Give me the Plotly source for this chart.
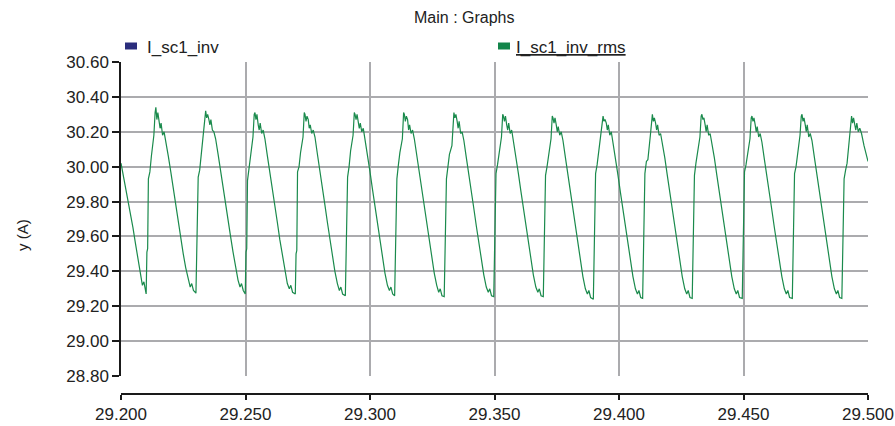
import plotly.graph_objects as go

# Simulation time (ms after 29.200 s) and RMS inverter current I_sc1_inv_rms (A), one line per cycle
t_ms = [
    0.0, 0.8, 1.8, 2.8, 3.8, 4.8, 5.8, 6.8, 7.8, 8.6, 9.2, 9.7, 10.1,
    10.4, 10.7, 11.0, 11.6, 12.2, 13.2, 13.7, 14.0, 14.4, 14.8, 15.3, 15.7, 16.1, 16.7, 17.3, 18.0, 19.0, 20.0, 21.0, 22.0, 23.0, 24.0, 25.0, 26.0, 27.0, 27.8, 28.4, 29.1, 30.1,
    30.4, 30.7, 31.0, 31.6, 32.2, 33.2, 33.7, 34.0, 34.4, 34.8, 35.3, 35.7, 36.1, 36.7, 37.3, 38.0, 39.0, 40.0, 41.0, 42.0, 43.0, 44.0, 45.0, 46.0, 47.0, 47.8, 48.4, 49.1, 49.9,
    50.2, 50.5, 50.8, 51.4, 52.0, 53.0, 53.5, 53.8, 54.2, 54.6, 55.1, 55.5, 55.9, 56.5, 57.1, 57.8, 58.8, 59.8, 60.8, 61.8, 62.8, 63.8, 64.8, 65.8, 66.8, 67.6, 68.2, 68.9, 70.0,
    70.3, 70.6, 70.9, 71.5, 72.1, 73.1, 73.6, 73.9, 74.3, 74.7, 75.2, 75.6, 76.0, 76.6, 77.2, 77.9, 78.9, 79.9, 80.9, 81.9, 82.9, 83.9, 84.9, 85.9, 86.9, 87.7, 88.3, 89.0, 90.1,
    90.4, 90.7, 91.0, 91.6, 92.2, 93.2, 93.7, 94.0, 94.4, 94.8, 95.3, 95.7, 96.1, 96.7, 97.3, 98.0, 99.0, 100.0, 101.0, 102.0, 103.0, 104.0, 105.0, 106.0, 107.0, 107.8, 108.4, 109.1, 109.9,
    110.2, 110.5, 110.8, 111.4, 112.0, 113.0, 113.5, 113.8, 114.2, 114.6, 115.1, 115.5, 115.9, 116.5, 117.1, 117.8, 118.8, 119.8, 120.8, 121.8, 122.8, 123.8, 124.8, 125.8, 126.8, 127.6, 128.2, 128.9, 129.8,
    130.1, 130.4, 130.7, 131.3, 131.9, 132.9, 133.4, 133.7, 134.1, 134.5, 135.0, 135.4, 135.8, 136.4, 137.0, 137.7, 138.7, 139.7, 140.7, 141.7, 142.7, 143.7, 144.7, 145.7, 146.7, 147.5, 148.1, 148.8, 149.7,
    150.0, 150.3, 150.6, 151.2, 151.8, 152.8, 153.3, 153.6, 154.0, 154.4, 154.9, 155.3, 155.7, 156.3, 156.9, 157.6, 158.6, 159.6, 160.6, 161.6, 162.6, 163.6, 164.6, 165.6, 166.6, 167.4, 168.0, 168.7, 169.6,
    169.9, 170.2, 170.5, 171.1, 171.7, 172.7, 173.2, 173.5, 173.9, 174.3, 174.8, 175.2, 175.6, 176.2, 176.8, 177.5, 178.5, 179.5, 180.5, 181.5, 182.5, 183.5, 184.5, 185.5, 186.5, 187.3, 187.9, 188.6, 189.7,
    190.0, 190.3, 190.6, 191.2, 191.8, 192.8, 193.3, 193.6, 194.0, 194.4, 194.9, 195.3, 195.7, 196.3, 196.9, 197.6, 198.6, 199.6, 200.6, 201.6, 202.6, 203.6, 204.6, 205.6, 206.6, 207.4, 208.0, 208.7, 209.5,
    209.8, 210.1, 210.4, 211.0, 211.6, 212.6, 213.1, 213.4, 213.8, 214.2, 214.7, 215.1, 215.5, 216.1, 216.7, 217.4, 218.4, 219.4, 220.4, 221.4, 222.4, 223.4, 224.4, 225.4, 226.4, 227.2, 227.8, 228.5, 229.4,
    229.7, 230.0, 230.3, 230.9, 231.5, 232.5, 233.0, 233.3, 233.7, 234.1, 234.6, 235.0, 235.4, 236.0, 236.6, 237.3, 238.3, 239.3, 240.3, 241.3, 242.3, 243.3, 244.3, 245.3, 246.3, 247.1, 247.7, 248.4, 249.5,
    249.8, 250.1, 250.4, 251.0, 251.6, 252.6, 253.1, 253.4, 253.8, 254.2, 254.7, 255.1, 255.5, 256.1, 256.7, 257.4, 258.4, 259.4, 260.4, 261.4, 262.4, 263.4, 264.4, 265.4, 266.4, 267.2, 267.8, 268.5, 269.6,
    269.9, 270.2, 270.5, 271.1, 271.7, 272.7, 273.2, 273.5, 273.9, 274.3, 274.8, 275.2, 275.6, 276.2, 276.8, 277.5, 278.5, 279.5, 280.5, 281.5, 282.5, 283.5, 284.5, 285.5, 286.5, 287.3, 287.9, 288.6, 289.5,
    289.8, 290.1, 290.4, 291.0, 291.6, 292.6, 293.1, 293.4, 293.8, 294.2, 294.7, 295.1, 295.5, 296.1, 296.7, 297.4, 298.4, 299.4, 300.0,
]

i_rms = [
    30.02, 29.96, 29.88, 29.80, 29.72, 29.65, 29.56, 29.47, 29.39, 29.32, 29.34, 29.29, 29.27,
    29.51, 29.53, 29.93, 29.97, 30.06, 30.18, 30.31, 30.34, 30.27, 30.31, 30.26, 30.22, 30.25, 30.18, 30.20, 30.15, 30.06, 29.97, 29.87, 29.78, 29.68, 29.59, 29.50, 29.42, 29.35, 29.31, 29.33, 29.29, 29.275,
    29.52, 29.54, 29.94, 29.98, 30.07, 30.20, 30.31, 30.32, 30.28, 30.30, 30.27, 30.24, 30.27, 30.21, 30.20, 30.16, 30.07, 29.97, 29.88, 29.79, 29.69, 29.60, 29.51, 29.42, 29.35, 29.31, 29.33, 29.29, 29.27,
    29.51, 29.53, 29.92, 29.99, 30.08, 30.17, 30.30, 30.31, 30.27, 30.30, 30.24, 30.21, 30.25, 30.19, 30.21, 30.16, 30.06, 29.97, 29.88, 29.77, 29.68, 29.58, 29.49, 29.40, 29.33, 29.30, 29.32, 29.28, 29.27,
    29.50, 29.52, 29.97, 30.00, 30.08, 30.17, 30.31, 30.30, 30.26, 30.29, 30.27, 30.22, 30.24, 30.19, 30.21, 30.17, 30.07, 29.98, 29.87, 29.78, 29.68, 29.58, 29.49, 29.40, 29.33, 29.29, 29.31, 29.27, 29.26,
    29.50, 29.53, 29.94, 30.00, 30.09, 30.18, 30.31, 30.30, 30.27, 30.30, 30.25, 30.22, 30.25, 30.20, 30.22, 30.16, 30.06, 29.97, 29.87, 29.77, 29.67, 29.57, 29.48, 29.39, 29.32, 29.29, 29.31, 29.27, 29.26,
    29.50, 29.52, 29.93, 30.01, 30.08, 30.16, 30.31, 30.30, 30.26, 30.29, 30.27, 30.21, 30.24, 30.19, 30.21, 30.16, 30.06, 29.96, 29.86, 29.77, 29.67, 29.57, 29.48, 29.39, 29.32, 29.28, 29.30, 29.26, 29.255,
    29.49, 29.52, 29.93, 30.00, 30.07, 30.12, 30.31, 30.31, 30.28, 30.30, 30.26, 30.22, 30.26, 30.19, 30.20, 30.15, 30.05, 29.96, 29.86, 29.76, 29.66, 29.56, 29.47, 29.38, 29.31, 29.28, 29.30, 29.26, 29.255,
    29.50, 29.53, 29.96, 30.01, 30.08, 30.17, 30.30, 30.29, 30.26, 30.29, 30.24, 30.21, 30.25, 30.19, 30.21, 30.15, 30.05, 29.96, 29.86, 29.76, 29.66, 29.56, 29.47, 29.38, 29.31, 29.28, 29.30, 29.26, 29.255,
    29.49, 29.52, 29.95, 30.00, 30.07, 30.16, 30.29, 30.28, 30.25, 30.28, 30.24, 30.20, 30.23, 30.18, 30.20, 30.15, 30.05, 29.95, 29.85, 29.75, 29.65, 29.55, 29.46, 29.37, 29.30, 29.27, 29.29, 29.25, 29.24,
    29.49, 29.51, 29.96, 30.01, 30.08, 30.20, 30.29, 30.29, 30.26, 30.27, 30.25, 30.21, 30.24, 30.18, 30.20, 30.14, 30.05, 29.95, 29.85, 29.75, 29.65, 29.55, 29.46, 29.37, 29.30, 29.27, 29.29, 29.25, 29.245,
    29.49, 29.52, 29.96, 30.03, 30.04, 30.18, 30.29, 30.30, 30.26, 30.28, 30.25, 30.21, 30.24, 30.18, 30.19, 30.14, 30.05, 29.95, 29.85, 29.75, 29.65, 29.55, 29.46, 29.37, 29.30, 29.27, 29.29, 29.25, 29.245,
    29.49, 29.51, 29.95, 30.02, 30.08, 30.17, 30.29, 30.30, 30.27, 30.28, 30.24, 30.20, 30.24, 30.18, 30.19, 30.14, 30.05, 29.95, 29.85, 29.75, 29.65, 29.55, 29.46, 29.37, 29.30, 29.27, 29.29, 29.25, 29.245,
    29.48, 29.51, 29.97, 30.01, 30.06, 30.16, 30.28, 30.29, 30.26, 30.28, 30.24, 30.20, 30.23, 30.17, 30.19, 30.14, 30.04, 29.95, 29.85, 29.75, 29.65, 29.55, 29.46, 29.37, 29.30, 29.27, 29.29, 29.25, 29.245,
    29.48, 29.51, 29.96, 30.00, 30.07, 30.18, 30.29, 30.30, 30.26, 30.28, 30.24, 30.20, 30.24, 30.17, 30.19, 30.15, 30.05, 29.95, 29.85, 29.75, 29.65, 29.55, 29.46, 29.37, 29.30, 29.27, 29.29, 29.25, 29.245,
    29.48, 29.51, 29.93, 29.98, 30.02, 30.17, 30.28, 30.29, 30.25, 30.28, 30.24, 30.21, 30.25, 30.20, 30.22, 30.19, 30.12, 30.06, 30.03,
]

T_START = 29.200
x_ticks = [29.200, 29.250, 29.300, 29.350, 29.400, 29.450, 29.500]
y_ticks = [28.80, 29.00, 29.20, 29.40, 29.60, 29.80, 30.00, 30.20, 30.40, 30.60]

series_names = ["I_sc1_inv", "I_sc1_inv_rms"]
series_colors = ["#2b2d7c", "#13854a"]

time_s = [T_START + v / 1000.0 for v in t_ms]

FONT = "Liberation Sans, Arial, sans-serif"
TXT = "#222222"
GRID = "#ababae"

fig = go.Figure()
fig.add_trace(go.Scatter(
    x=time_s, y=i_rms, mode="lines", name=series_names[1],
    line=dict(color="#1a8a4c", width=1.2), showlegend=False,
))

fig.update_layout(
    width=895, height=426,
    margin=dict(l=121, r=27, t=62, b=32, autoexpand=False),
    paper_bgcolor="white", plot_bgcolor="white",
    font=dict(family=FONT, size=17, color=TXT),
    xaxis=dict(
        range=[29.2, 29.5], tickvals=x_ticks, tickformat=".3f",
        showgrid=True, gridcolor=GRID, gridwidth=1.5,
        showline=True, linecolor="#1a1a1a", linewidth=1.5,
        ticks="outside", ticklen=5, tickcolor="#1a1a1a", tickwidth=1.5,
        anchor="free", position=0, zeroline=False, automargin=False,
    ),
    yaxis=dict(
        range=[28.8, 30.6], tickvals=y_ticks, tickformat=".2f",
        domain=[18 / 332, 1],
        showgrid=True, gridcolor=GRID, gridwidth=1.5,
        showline=True, linecolor="#1a1a1a", linewidth=1.5,
        ticks="outside", ticklen=7, tickcolor="#1a1a1a", tickwidth=1.5,
        zeroline=False, automargin=False,
    ),
)

# paper coordinates from pixel positions within the figure
def px(xp):
    return (xp - 121) / 747.0

def py(yp):
    return (394 - yp) / 332.0

annotations = [
    dict(text="Main : Graphs", x=px(464), y=py(17), xanchor="center", yanchor="middle",
         font=dict(size=16)),
    dict(text=series_names[0], x=px(145), y=py(47), xanchor="left", yanchor="middle"),
    dict(text="<u>" + series_names[1] + "</u>", x=px(514), y=py(47), xanchor="left", yanchor="middle"),
    dict(text="y (A)", x=px(22), y=py(235), xanchor="center", yanchor="middle", textangle=-90,
         font=dict(size=15)),
]
for a in annotations:
    a.update(xref="paper", yref="paper", showarrow=False)
fig.update_layout(annotations=annotations)

shapes = []
for (x0, x1), c in zip([(125, 137), (498, 510)], series_colors):
    shapes.append(dict(type="rect", xref="paper", yref="paper",
                       x0=px(x0), x1=px(x1), y0=py(49.5), y1=py(42.5),
                       fillcolor=c, line=dict(width=0)))
fig.update_layout(shapes=shapes)

fig.write_html("out.html")
